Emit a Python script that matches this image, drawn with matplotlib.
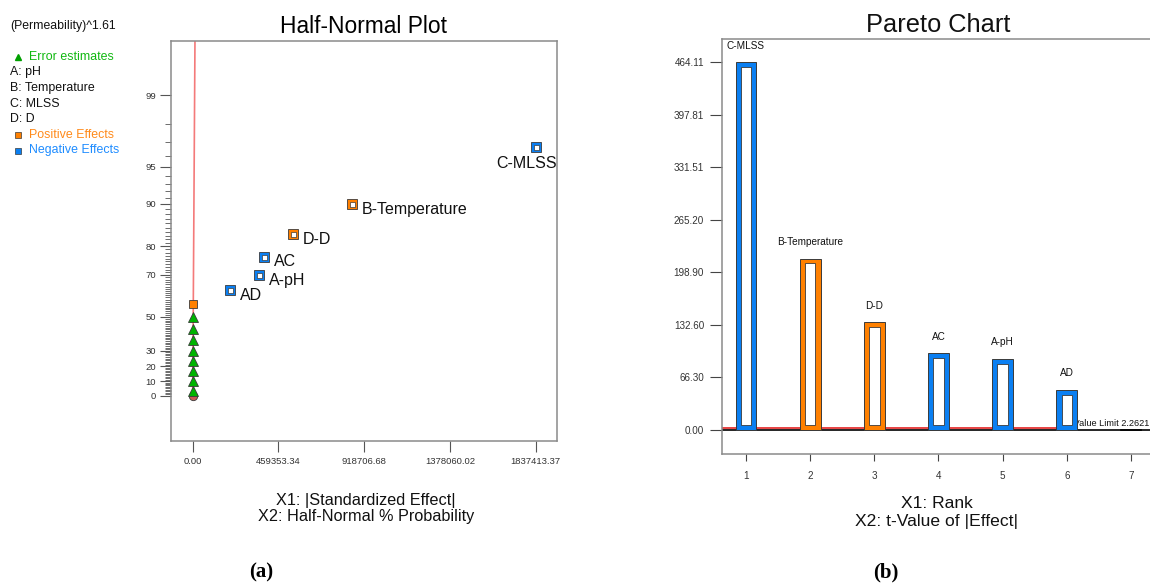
import numpy as np
import matplotlib.pyplot as plt
from matplotlib.lines import Line2D
from statistics import NormalDist

plt.rcParams['font.family'] = ['Liberation Sans', 'DejaVu Sans']

# ---- half-normal plot data ----
hn_terms = ['C-MLSS', 'B-Temperature', 'D-D', 'AC', 'A-pH', 'AD']
hn_effects = [1837413.37, 855500, 537000, 382600, 355000, 201800]
hn_signs = ['-', '+', '+', '-', '-', '-']
hn_other_pos = [3200]
hn_errors = [300, 700, 1100, 1400, 1700, 2000, 2300, 2600]
hn_fit_slope = 4000.0
hn_pct_labels = [0, 10, 20, 30, 50, 70, 80, 90, 95, 99]
hn_xticks = [0.00, 459353.34, 918706.68, 1378060.02, 1837413.37]

# ---- pareto chart data ----
par_terms = ['C-MLSS', 'B-Temperature', 'D-D', 'AC', 'A-pH', 'AD']
par_rank = [1, 2, 3, 4, 5, 6]
par_t = [464.11, 216.2, 135.9, 96.8, 89.6, 50.5]
par_signs = ['-', '+', '+', '-', '-', '-']
par_rest_rank = [7]
par_rest_t = [1.5]
par_yticks = [0.00, 66.30, 132.60, 198.90, 265.20, 331.51, 397.81, 464.11]
t_limit = 2.2621

legend_factors = ['A: pH', 'B: Temperature', 'C: MLSS', 'D: D']

BLUE = '#0a7ff2'
ORANGE = '#ff8000'
GREEN = '#10b810'
EDGE = '#3a3a3a'
TICK = '#333333'
FRAME = '#8a8a8a'

nd = NormalDist()


def hn_q(pct):
    # half-normal quantile for a cumulative percentage
    return nd.inv_cdf(0.5 + pct / 200.0)


W, H = 1150, 585
fig = plt.figure(figsize=(W / 100, H / 100), dpi=100)


def fx(px):
    return px / W


def fy(py):
    return 1 - py / H


# ================= Half-normal plot =================
ax1 = fig.add_axes([fx(171), fy(441), fx(557 - 171), (441 - 41) / H])

all_eff = sorted(hn_errors + hn_other_pos + hn_effects)
n = len(all_eff)
q_of = {v: hn_q(100 * (i + 0.5) / n) for i, v in enumerate(all_eff)}

ymax = 3.039
ax1.plot([0, hn_fit_slope * ymax * 1.02], [0, ymax * 1.02], color='#f47a7a', lw=1.2, zorder=1)
ax1.plot([0], [0], 'o', ms=6, mfc='#c85a55', mec=EDGE, mew=0.6, zorder=2)

ax1.plot(hn_errors, [q_of[v] for v in hn_errors], '^', ms=7, mfc='#00b400',
         mec=EDGE, mew=0.6, zorder=3)
ax1.plot(hn_other_pos, [q_of[v] for v in hn_other_pos], 's', ms=6, mfc=ORANGE,
         mec=EDGE, mew=0.6, zorder=3)

for term, eff, sg in zip(hn_terms, hn_effects, hn_signs):
    q = q_of[eff]
    col = BLUE if sg == '-' else ORANGE
    ax1.plot([eff], [q], 's', ms=7.6, mfc=col, mec=EDGE, mew=0.6, zorder=4)
    ax1.plot([eff], [q], 's', ms=3.6, mfc='white', mec=EDGE, mew=0.5, zorder=5)
    if term == 'C-MLSS':
        ax1.annotate(term, (eff, q), xytext=(15, -12), textcoords='offset points',
                     ha='right', va='center', fontsize=11.5, color='#111')
    else:
        ax1.annotate(term, (eff, q), xytext=(7, -3.8), textcoords='offset points',
                     ha='left', va='center', fontsize=11.5, color='#111')

ax1.set_xlim(-116250, 1951520)
ax1.set_ylim(-0.388, ymax)
ax1.set_xticks(hn_xticks)
ax1.set_xticklabels(['%.2f' % v for v in hn_xticks])
ax1.set_yticks([hn_q(p) for p in hn_pct_labels])
ax1.set_yticklabels([str(p) for p in hn_pct_labels])
minor_pct = [p for p in range(1, 99) if p not in hn_pct_labels]
ax1.set_yticks([hn_q(p) for p in minor_pct], minor=True)

ax1.tick_params(axis='both', which='major', direction='out', color='#555',
                labelcolor=TICK, labelsize=6.8, width=0.8)
ax1.tick_params(axis='x', length=8, pad=3.3)
ax1.tick_params(axis='y', length=8, pad=2.8)
ax1.tick_params(axis='y', which='minor', length=4.2, width=0.6, color='#555')
for s in ax1.spines.values():
    s.set_color(FRAME)
    s.set_linewidth(1.1)
ax1.set_title('Half-Normal Plot', fontsize=16.4, pad=5.8)

fig.text(fx(366), fy(500), 'X1: |Standardized Effect|', ha='center', va='center',
         fontsize=11.7, color='#111')
fig.text(fx(366), fy(517), 'X2: Half-Normal % Probability', ha='center', va='center',
         fontsize=11.7, color='#111')

# side legend
fig.text(fx(10), fy(26), '(Permeability)^1.61', ha='left', va='center', fontsize=8.8, color='#111')
fig.add_artist(Line2D([fx(18)], [fy(57)], marker='^', ms=5, mfc='#00a000', mec='#00a000',
                      ls='none', transform=fig.transFigure))
fig.text(fx(29), fy(57), 'Error estimates', ha='left', va='center', fontsize=8.9, color=GREEN)
for i, lab in enumerate(legend_factors):
    fig.text(fx(10), fy(72.5 + i * 15.6), lab, ha='left', va='center', fontsize=8.9, color='#111')
fig.add_artist(Line2D([fx(18)], [fy(135)], marker='s', ms=5, mfc=ORANGE, mec=EDGE, mew=0.5,
                      ls='none', transform=fig.transFigure))
fig.text(fx(29), fy(135), 'Positive Effects', ha='left', va='center', fontsize=8.9, color='#ff8a1a')
fig.add_artist(Line2D([fx(18)], [fy(150.5)], marker='s', ms=5, mfc=BLUE, mec=EDGE, mew=0.5,
                      ls='none', transform=fig.transFigure))
fig.text(fx(29), fy(150.5), 'Negative Effects', ha='left', va='center', fontsize=8.9, color='#1e8cff')

# ================= Pareto chart =================
ax2 = fig.add_axes([fx(722), fy(454), fx(1170 - 722), (454 - 38.5) / H])

ax2.axhline(0, color='black', lw=1.2, zorder=1.5)
ax2.axhline(t_limit, color='#e01010', lw=1.1, zorder=1.6)
ax2.text(6.02, t_limit, 't-Value Limit %.4f' % t_limit, ha='left', va='bottom',
         fontsize=6.6, color='#111', zorder=1.7,
         bbox=dict(facecolor='white', edgecolor='none', pad=0.3))

bar_w = 0.327
inner_w = 0.164
inset_top, inset_bot = 5.9, 6.3
par_cols = [BLUE if s == '-' else ORANGE for s in par_signs]
ax2.bar(par_rank, par_t, width=bar_w, color=par_cols, edgecolor=EDGE, lw=0.7, zorder=2)
inner_h = [t - inset_top - inset_bot for t in par_t]
ax2.bar(par_rank, inner_h, bottom=inset_bot, width=inner_w, color='white',
        edgecolor=EDGE, lw=0.6, zorder=3)
ax2.bar(par_rest_rank, par_rest_t, width=bar_w, color='black', edgecolor='black',
        lw=0.5, zorder=2)

for r, t, term in zip(par_rank, par_t, par_terms):
    ax2.annotate(term, (r, t), xytext=(0, 12), textcoords='offset points',
                 ha='center', va='center', fontsize=7.2, color='#111')

ax2.set_xlim(0.626, 7.608)
ax2.set_ylim(-30.3, 494.1)
ax2.set_yticks(par_yticks)
ax2.set_yticklabels(['%.2f' % v for v in par_yticks])
ax2.set_xticks(par_rank + par_rest_rank)
ax2.tick_params(axis='both', direction='out', color='#444', labelcolor=TICK,
                labelsize=7.1, width=0.8)
ax2.tick_params(axis='y', length=8.6, pad=4.3)
ax2.tick_params(axis='x', length=5.2, pad=7)
for s in ax2.spines.values():
    s.set_color(FRAME)
    s.set_linewidth(1.1)

fig.text(fx(938), fy(31.7), 'Pareto Chart', ha='center', va='baseline', fontsize=18.3, color='#111')
fig.text(fx(937), fy(504), 'X1: Rank', ha='center', va='center', fontsize=12.6, color='#111')
fig.text(fx(937), fy(521.5), 'X2: t-Value of |Effect|', ha='center', va='center',
         fontsize=12.6, color='#111')

# panel letters
fig.text(fx(261), fy(572), '(a)', ha='center', va='center', fontsize=15,
         family='Liberation Serif', fontweight='bold')
fig.text(fx(886), fy(572), '(b)', ha='center', va='center', fontsize=15,
         family='Liberation Serif', fontweight='bold')

fig.savefig('out.png', dpi=100)
